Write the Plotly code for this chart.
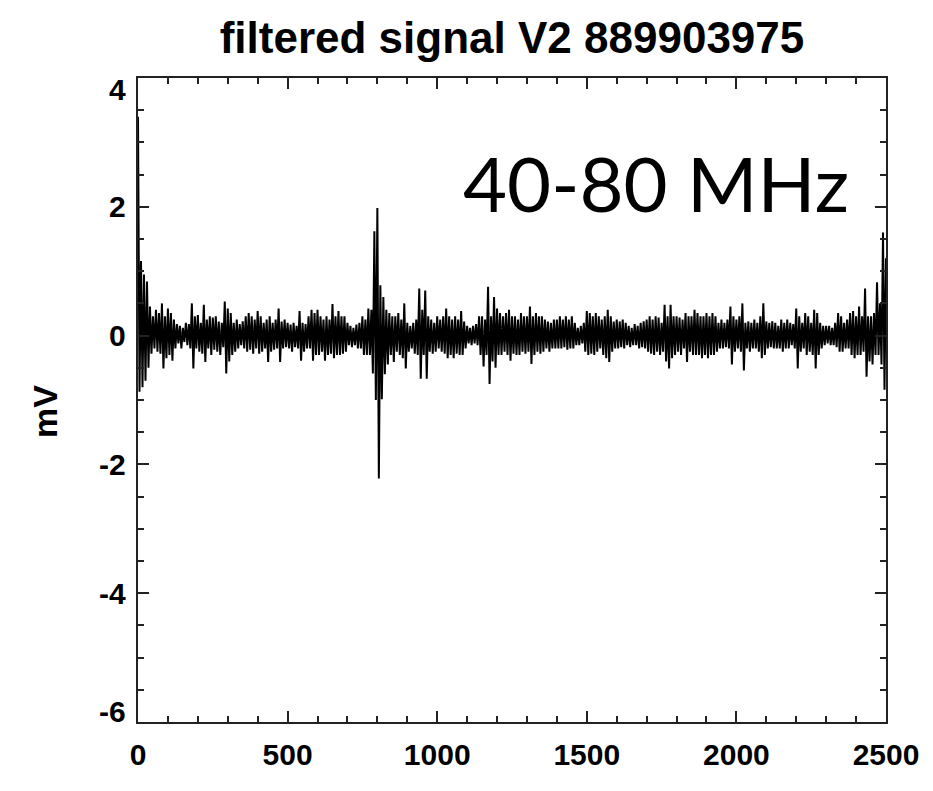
import plotly.graph_objects as go

title_text = "filtered signal V2 889903975"
band_label = "40-80 MHz"
y_label = "mV"
sample_step = 5  # samples spaced 5 units apart

# signal values (blocks of 100 units, 20 samples each)
block_00 = [3.4, -0.87, 1.16, -0.8, 0.95, -0.7, 0.84, -0.5, 0.45, -0.28, 0.3, -0.2, 0.4, -0.25, 0.35, -0.28, 0.5, -0.51, 0.3, -0.35]
block_01 = [0.42, -0.3, 0.35, -0.39, 0.25, -0.2, 0.18, -0.12, 0.15, -0.2, 0.12, -0.1, 0.2, -0.15, 0.18, -0.2, 0.5, -0.51, 0.3, -0.2]
block_02 = [0.32, -0.25, 0.2, -0.28, 0.48, -0.41, 0.25, -0.2, 0.3, -0.3, 0.28, -0.22, 0.3, -0.25, 0.22, -0.3, 0.2, -0.18, 0.53, -0.59]
block_03 = [0.42, -0.4, 0.35, -0.3, 0.2, -0.25, 0.25, -0.2, 0.18, -0.15, 0.22, -0.2, 0.3, -0.25, 0.35, -0.22, 0.3, -0.28, 0.25, -0.2]
block_04 = [0.38, -0.28, 0.3, -0.25, 0.2, -0.2, 0.25, -0.41, 0.3, -0.25, 0.2, -0.22, 0.25, -0.2, 0.42, -0.41, 0.22, -0.2, 0.25, -0.18]
block_05 = [0.2, -0.2, 0.17, -0.25, 0.2, -0.18, 0.15, -0.2, 0.38, -0.39, 0.2, -0.25, 0.18, -0.2, 0.3, -0.2, 0.4, -0.39, 0.35, -0.3]
block_06 = [0.4, -0.3, 0.3, -0.25, 0.25, -0.39, 0.3, -0.3, 0.25, -0.28, 0.49, -0.35, 0.3, -0.3, 0.38, -0.3, 0.3, -0.28, 0.3, -0.25]
block_07 = [0.2, -0.15, 0.15, -0.18, 0.12, -0.15, 0.17, -0.2, 0.2, -0.2, 0.3, -0.3, 0.25, -0.3, 0.42, -0.3, 0.4, -0.59, 1.62, -1.0]
block_08 = [1.98, -2.22, 0.78, -0.99, 0.6, -0.6, 0.4, -0.45, 0.35, -0.3, 0.3, -0.41, 0.3, -0.25, 0.35, -0.3, 0.25, -0.35, 0.5, -0.51]
block_09 = [0.2, -0.25, 0.15, -0.2, 0.2, -0.28, 0.25, -0.3, 0.73, -0.67, 0.4, -0.3, 0.7, -0.67, 0.3, -0.25, 0.25, -0.28, 0.2, -0.25]
block_10 = [0.3, -0.2, 0.25, -0.25, 0.3, -0.28, 0.42, -0.35, 0.3, -0.3, 0.25, -0.35, 0.3, -0.28, 0.25, -0.3, 0.38, -0.3, 0.22, -0.2]
block_11 = [0.15, -0.12, 0.12, -0.15, 0.15, -0.12, 0.18, -0.15, 0.3, -0.3, 0.3, -0.48, 0.25, -0.3, 0.76, -0.75, 0.3, -0.4, 0.6, -0.5]
block_12 = [0.42, -0.3, 0.35, -0.3, 0.3, -0.25, 0.35, -0.3, 0.4, -0.39, 0.3, -0.28, 0.3, -0.3, 0.25, -0.3, 0.35, -0.25, 0.3, -0.28]
block_13 = [0.3, -0.25, 0.45, -0.44, 0.3, -0.3, 0.35, -0.25, 0.3, -0.28, 0.3, -0.25, 0.25, -0.2, 0.22, -0.25, 0.2, -0.2, 0.25, -0.2]
block_14 = [0.25, -0.2, 0.3, -0.2, 0.25, -0.18, 0.3, -0.22, 0.25, -0.2, 0.3, -0.2, 0.2, -0.15, 0.12, -0.15, 0.15, -0.12, 0.2, -0.25]
block_15 = [0.38, -0.3, 0.35, -0.28, 0.3, -0.3, 0.35, -0.25, 0.3, -0.2, 0.25, -0.3, 0.3, -0.35, 0.4, -0.41, 0.3, -0.25, 0.22, -0.2]
block_16 = [0.25, -0.2, 0.22, -0.18, 0.25, -0.2, 0.2, -0.15, 0.15, -0.18, 0.12, -0.15, 0.18, -0.15, 0.15, -0.2, 0.2, -0.18, 0.22, -0.2]
block_17 = [0.25, -0.25, 0.3, -0.28, 0.25, -0.3, 0.3, -0.25, 0.28, -0.3, 0.2, -0.25, 0.48, -0.4, 0.3, -0.51, 0.48, -0.35, 0.3, -0.3]
block_18 = [0.3, -0.25, 0.28, -0.3, 0.25, -0.2, 0.35, -0.41, 0.3, -0.25, 0.3, -0.3, 0.4, -0.3, 0.35, -0.3, 0.3, -0.35, 0.3, -0.3]
block_19 = [0.35, -0.35, 0.3, -0.3, 0.35, -0.3, 0.3, -0.25, 0.2, -0.2, 0.25, -0.2, 0.2, -0.18, 0.25, -0.2, 0.45, -0.45, 0.3, -0.25]
block_20 = [0.25, -0.2, 0.3, -0.25, 0.5, -0.54, 0.2, -0.2, 0.22, -0.25, 0.2, -0.2, 0.25, -0.2, 0.2, -0.25, 0.3, -0.35, 0.5, -0.3]
block_21 = [0.22, -0.2, 0.2, -0.18, 0.22, -0.2, 0.2, -0.2, 0.15, -0.2, 0.25, -0.25, 0.2, -0.2, 0.25, -0.2, 0.2, -0.15, 0.18, -0.2]
block_22 = [0.42, -0.51, 0.3, -0.25, 0.2, -0.2, 0.35, -0.3, 0.3, -0.25, 0.2, -0.3, 0.4, -0.51, 0.35, -0.3, 0.2, -0.2, 0.15, -0.15]
block_23 = [0.15, -0.12, 0.15, -0.15, 0.12, -0.15, 0.2, -0.18, 0.35, -0.25, 0.3, -0.25, 0.2, -0.2, 0.25, -0.2, 0.35, -0.3, 0.38, -0.35]
block_24 = [0.3, -0.3, 0.45, -0.3, 0.3, -0.25, 0.73, -0.64, 0.3, -0.4, 0.3, -0.45, 0.35, -0.3, 0.83, -0.3, 0.5, -0.45, 1.6, -0.84]
last_sample = [1.2]

signal = (block_00 + block_01 + block_02 + block_03 + block_04 + block_05 + block_06 +
          block_07 + block_08 + block_09 + block_10 + block_11 + block_12 + block_13 +
          block_14 + block_15 + block_16 + block_17 + block_18 + block_19 + block_20 +
          block_21 + block_22 + block_23 + block_24 + last_sample)
time = [i * sample_step for i in range(len(signal))]

x_ticks = [0, 500, 1000, 1500, 2000, 2500]
y_ticks = [-6, -4, -2, 0, 2, 4]

W, H = 933, 791
L, R, T, B = 138, 886, 78, 722

label_font = dict(family="Liberation Sans, Arial, sans-serif", size=30, color="black", weight="bold")

fig = go.Figure()
fig.add_trace(go.Scatter(x=time, y=signal, mode="lines",
                         line=dict(color="black", width=2), showlegend=False))

common = dict(showgrid=False, zeroline=False, showline=True, linecolor="#222", linewidth=2,
              mirror="allticks", ticks="inside", tickcolor="#222", tickwidth=1.5)
fig.update_xaxes(range=[0, 2500], tickvals=x_ticks, ticktext=[str(v) for v in x_ticks],
                 ticklen=11, minor=dict(ticks="inside", dtick=100, ticklen=6, tickcolor="#222", tickwidth=1.5),
                 ticklabelstandoff=5, tickfont=label_font, **common)
fig.update_yaxes(range=[-6, 4], tickvals=y_ticks, showticklabels=False,
                 ticklen=11, minor=dict(ticks="inside", dtick=0.5, ticklen=6, tickcolor="#222", tickwidth=1.5),
                 **common)

# y tick labels (end labels sit slightly inside the frame, as in the original)
for v in y_ticks:
    shift = -11 if v == max(y_ticks) else (11 if v == min(y_ticks) else 0)
    fig.add_annotation(text=str(v), xref="paper", yref="y", x=0, y=v,
                       xanchor="right", yanchor="middle", xshift=-10, yshift=shift,
                       showarrow=False, font=label_font)

fig.add_annotation(text=y_label, xref="paper", yref="paper",
                   x=(45 - L) / (R - L), y=(H - 412 - (H - B)) / (B - T),
                   showarrow=False, textangle=-90, xanchor="center", yanchor="middle",
                   font=dict(family="Liberation Sans, Arial, sans-serif", size=34, color="black", weight="bold"))
fig.add_annotation(text=band_label, xref="paper", yref="paper",
                   x=(656 - L) / (R - L), y=(H - 183 - (H - B)) / (B - T),
                   showarrow=False, xanchor="center", yanchor="middle",
                   font=dict(family="Lato, Open Sans, sans-serif", size=76, color="black"))

fig.update_layout(
    width=W, height=H,
    margin=dict(l=L, r=W - R, t=T, b=H - B),
    paper_bgcolor="white", plot_bgcolor="white",
    title=dict(text=title_text, x=(L + R) / 2 / W, xanchor="center", y=1 - 38 / H, yanchor="middle",
               font=dict(family="Liberation Sans, Arial, sans-serif", size=44, color="black", weight="bold")),
)

fig.write_html("out.html")
